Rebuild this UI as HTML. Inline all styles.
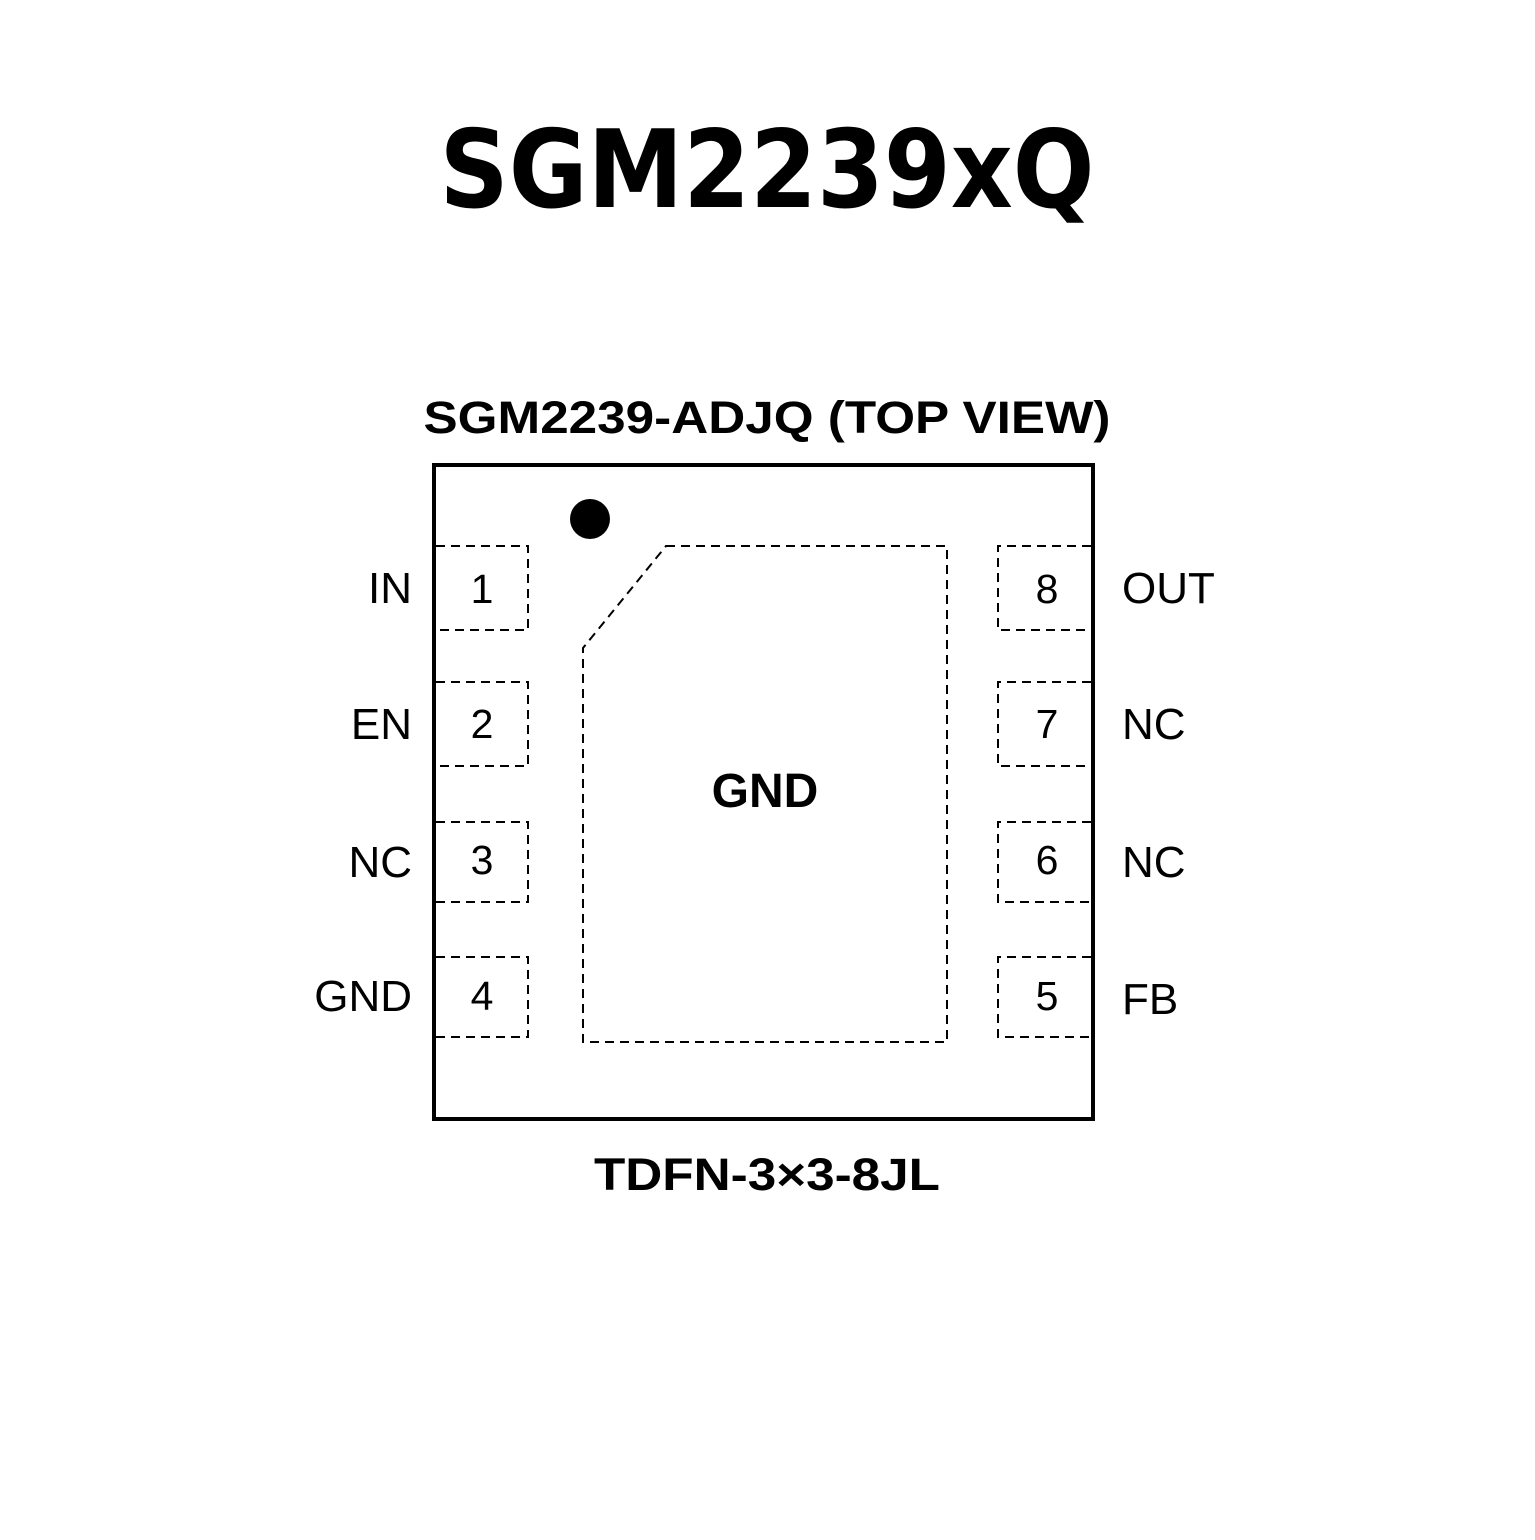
<!DOCTYPE html>
<html><head><style>html,body{margin:0;padding:0;background:#fff}</style></head><body>
<svg width="1535" height="1535" xmlns="http://www.w3.org/2000/svg">
<rect width="1535" height="1535" fill="#fff"/>
<text x="767" y="207" text-anchor="middle" font-family="DejaVu Sans, sans-serif" font-weight="bold" font-size="108" textLength="655" lengthAdjust="spacingAndGlyphs">SGM2239xQ</text>
<text x="767" y="433" text-anchor="middle" font-family="Liberation Sans, sans-serif" font-weight="bold" font-size="45" textLength="687" lengthAdjust="spacingAndGlyphs">SGM2239-ADJQ (TOP VIEW)</text>
<rect x="434" y="465" width="659" height="654" fill="none" stroke="#000" stroke-width="4"/>
<circle cx="590" cy="519" r="20" fill="#000"/>
<g fill="none" stroke="#000" stroke-width="2" stroke-dasharray="9,6">
<polyline points="436,546 528,546 528,630 436,630"/>
<polyline points="436,682 528,682 528,766 436,766"/>
<polyline points="436,822 528,822 528,902 436,902"/>
<polyline points="436,957 528,957 528,1037 436,1037"/>
<polyline points="1091,546 998,546 998,630 1091,630"/>
<polyline points="1091,682 998,682 998,766 1091,766"/>
<polyline points="1091,822 998,822 998,902 1091,902"/>
<polyline points="1091,957 998,957 998,1037 1091,1037"/>
<polygon points="666,546 947,546 947,1042 583,1042 583,648"/>
</g>
<g font-family="Liberation Sans, sans-serif" font-size="41" fill="#000">
<text x="482" y="603" text-anchor="middle">1</text>
<text x="482" y="738" text-anchor="middle">2</text>
<text x="482" y="874" text-anchor="middle">3</text>
<text x="482" y="1010" text-anchor="middle">4</text>
<text x="1047" y="603" text-anchor="middle">8</text>
<text x="1047" y="738" text-anchor="middle">7</text>
<text x="1047" y="874" text-anchor="middle">6</text>
<text x="1047" y="1010" text-anchor="middle">5</text>
</g>
<g font-family="Liberation Sans, sans-serif" font-size="44" fill="#000">
<text x="412" y="603" text-anchor="end">IN</text>
<text x="412" y="739" text-anchor="end">EN</text>
<text x="412" y="877" text-anchor="end">NC</text>
<text x="412" y="1011" text-anchor="end">GND</text>
<text x="1122" y="603">OUT</text>
<text x="1122" y="739">NC</text>
<text x="1122" y="877">NC</text>
<text x="1122" y="1014">FB</text>
</g>
<text x="765" y="807" text-anchor="middle" font-family="Liberation Sans, sans-serif" font-weight="bold" font-size="48">GND</text>
<text x="767" y="1190" text-anchor="middle" font-family="Liberation Sans, sans-serif" font-weight="bold" font-size="45" textLength="346" lengthAdjust="spacingAndGlyphs">TDFN-3×3-8JL</text>
</svg>
</body></html>
